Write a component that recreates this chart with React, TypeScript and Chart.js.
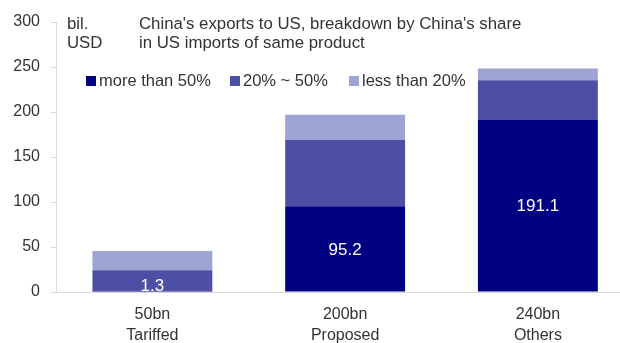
import React, { useEffect, useRef } from "react";
import { Chart, registerables } from "chart.js";

Chart.register(...registerables);

const categories: string[][] = [
  ["50bn", "Tariffed"],
  ["200bn", "Proposed"],
  ["240bn", "Others"],
];
const seriesNames = ["more than 50%", "20% ~ 50%", "less than 20%"];
const moreThan50 = [1.3, 95.2, 191.1];
const between20and50 = [22.8, 74.0, 44.1];
const lessThan20 = [21.5, 27.8, 13.0];
const seriesColors = ["#000080", "#4C4FA3", "#9EA4D4"];
const yTicks = [0, 50, 100, 150, 200, 250, 300];
const titleLines = [
  "China's exports to US, breakdown by China's share",
  "in US imports of same product",
];
const unitLines = ["bil.", "USD"];

const FONT = "'Liberation Sans', Arial, sans-serif";

export default function App() {
  const ref = useRef<HTMLCanvasElement | null>(null);

  useEffect(() => {
    if (!ref.current) return;
    const toPoints = (arr: number[]) => arr.map((y, i) => ({ x: i, y }));
    const seriesData = [moreThan50, between20and50, lessThan20];

    const overlay = {
      id: "overlay",
      afterDatasetsDraw(chart: any) {
        const ctx = chart.ctx as CanvasRenderingContext2D;
        ctx.save();
        const meta = chart.getDatasetMeta(0);
        ctx.fillStyle = "#ffffff";
        ctx.font = `17px ${FONT}`;
        ctx.textAlign = "center";
        ctx.textBaseline = "middle";
        meta.data.forEach((bar: any, i: number) => {
          const mid = (bar.y + bar.base) / 2 + 1;
          const y = Math.min(mid, bar.base - 5);
          ctx.fillText(String(moreThan50[i]), bar.x, y);
        });
        ctx.restore();
      },
      afterDraw(chart: any) {
        const ctx = chart.ctx as CanvasRenderingContext2D;
        const area = chart.chartArea;
        ctx.save();
        ctx.fillStyle = "#333333";
        ctx.font = `16.8px ${FONT}`;
        ctx.textAlign = "left";
        ctx.textBaseline = "middle";
        unitLines.forEach((t, i) => ctx.fillText(t, area.left + 11, 24 + i * 19));
        titleLines.forEach((t, i) => ctx.fillText(t, area.left + 83, 24 + i * 19));
        const boxX = [86, 230, 349];
        ctx.font = `16.5px ${FONT}`;
        chart.data.datasets.forEach((ds: any, i: number) => {
          ctx.fillStyle = ds.backgroundColor;
          ctx.fillRect(boxX[i], 76, 10, 10);
          ctx.fillStyle = "#333333";
          ctx.fillText(ds.label, boxX[i] + 13, 81.5);
        });
        ctx.restore();
      },
    };

    const chart = new Chart(ref.current, {
      type: "bar",
      data: {
        datasets: seriesNames.map((name, i) => ({
          label: name,
          data: toPoints(seriesData[i]),
          backgroundColor: seriesColors[i],
          borderWidth: 0,
          barPercentage: 0.622,
          categoryPercentage: 1,
        })),
      },
      options: {
        animation: false,
        responsive: false,
        events: [],
        layout: { padding: { top: 22, right: 0, bottom: 0, left: 0 } },
        plugins: {
          legend: { display: false },
          tooltip: { enabled: false },
          title: { display: false },
        },
        scales: {
          x: {
            type: "linear",
            stacked: true,
            offset: false,
            min: -0.5,
            max: 2.426,
            afterBuildTicks: (scale: any) => {
              scale.ticks = categories.map((_, i) => ({ value: i }));
            },
            afterFit: (scale: any) => {
              scale.height = 51;
            },
            grid: { display: false, drawTicks: false },
            border: { display: true, color: "#d9d9d9", width: 1 },
            ticks: {
              autoSkip: false,
              maxRotation: 0,
              padding: 12,
              color: "#333333",
              font: { family: FONT, size: 16, lineHeight: 1.3 },
              callback: (v: any) => categories[Number(v)] ?? "",
            },
          },
          y: {
            stacked: true,
            min: 0,
            max: 300,
            afterBuildTicks: (scale: any) => {
              scale.ticks = yTicks.map((v) => ({ value: v }));
            },
            afterFit: (scale: any) => {
              scale.width = 56;
            },
            grid: {
              drawOnChartArea: false,
              drawTicks: true,
              tickLength: 5,
              color: "#d9d9d9",
            },
            border: { display: true, color: "#d9d9d9", width: 1 },
            ticks: {
              padding: 11,
              color: "#333333",
              font: { family: FONT, size: 16 },
            },
          },
        },
      },
      plugins: [overlay],
    });
    return () => chart.destroy();
  }, []);

  return (
    <div style={{ position: "fixed", left: 0, top: 0, width: 620, height: 343, background: "#fff" }}>
      <canvas ref={ref} width={620} height={343} style={{ width: 620, height: 343, display: "block" }} />
    </div>
  );
}
